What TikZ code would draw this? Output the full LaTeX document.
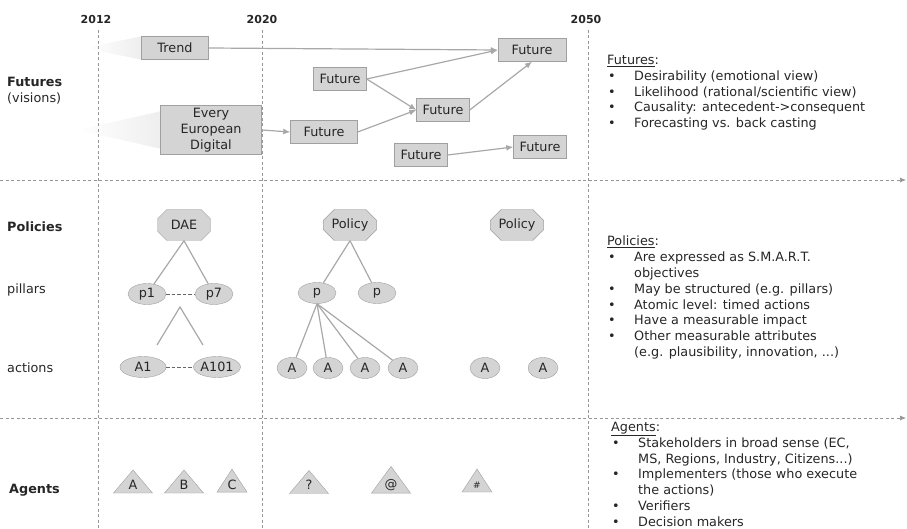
\documentclass[tikz,border=0pt]{standalone}
\usepackage{fontspec}
\setmainfont{DejaVu Sans}
\usepackage{xcolor}
\definecolor{boxgray}{RGB}{212,212,212}
\definecolor{edgegray}{RGB}{160,160,160}
\definecolor{linkgray}{RGB}{168,168,168}
\definecolor{gridgray}{RGB}{150,150,150}
\definecolor{txtgray}{RGB}{38,38,38}
\usetikzlibrary{arrows.meta,positioning,shapes.geometric,shapes.misc,backgrounds}
\newcommand{\dfont}{\fontsize{12.8}{15.8}\selectfont}
\newcommand{\bul}{\makebox[27pt][l]{\hspace{1pt}\textbullet}}
\newcommand{\ind}{\hspace*{27pt}}

\tikzset{
  futbox/.style={draw=edgegray, fill=boxgray, text=txtgray, font=\dfont, minimum width=53pt, minimum height=23pt, inner sep=1pt},
  polbox/.style={chamfered rectangle, chamfered rectangle xsep=9pt, draw=edgegray, fill=boxgray, text=txtgray, font=\dfont, minimum width=53pt, minimum height=31pt, inner sep=1pt},
  pilbox/.style={ellipse, draw=edgegray, fill=boxgray, text=txtgray, font=\dfont, minimum width=38pt, minimum height=21pt, inner sep=0pt},
  actbox/.style={pilbox, minimum width=30pt},
  agtbox/.style={isosceles triangle, isosceles triangle stretches, shape border rotate=90, draw=edgegray, fill=boxgray, text=txtgray, font=\dfont, minimum width=39pt, minimum height=23pt, inner sep=0pt},
  link/.style={draw=linkgray, line width=1.2pt},
  arr/.style={link, -{Latex[length=7pt,width=6pt]}},
  gridline/.style={draw=gridgray, line width=0.7pt, dash pattern=on 3pt off 2.5pt},
  gapdash/.style={draw=black!60, line width=1pt, dash pattern=on 3.5pt off 2pt},
  rowlbl/.style={anchor=west, inner sep=0pt, font=\dfont, text=txtgray},
  yearlbl/.style={inner sep=0pt, font=\fontsize{11}{13}\selectfont\bfseries, text=txtgray},
  notes/.style={anchor=north west, align=left, font=\dfont, text=txtgray, inner sep=0pt},
  fadewedge/.style={left color=white, right color=gray!13}
}

\begin{document}
\begin{tikzpicture}[x=1pt, y=-1pt]
  \useasboundingbox (0,0) rectangle (907,529);
  % Time axis
  \node[yearlbl] (y2012) at (96,19) {2012};
  \node[yearlbl] (y2020) at (262,19) {2020};
  \node[yearlbl] (y2050) at (586,19) {2050};
  \draw[gridline] (98,30) -- (98,529);
  \draw[gridline] (262,30) -- (262,529);
  \draw[gridline] (588,30) -- (588,529);
  \draw[gridline, -{Latex[length=6pt,width=5pt]}] (0,180) -- (906,180);
  \draw[gridline, -{Latex[length=6pt,width=5pt]}] (0,418) -- (906,418);
  % Row labels
  \node[rowlbl, font=\dfont\bfseries] (futlbl) at (7,82) {Futures};
  \node[rowlbl] (vislbl) at (7,98) {(visions)};
  \node[rowlbl, font=\dfont\bfseries] (pollbl) at (7,227) {Policies};
  \node[rowlbl] (pillbl) at (7,290) {pillars};
  \node[rowlbl] (actlbl) at (7,368) {actions};
  \node[rowlbl, font=\dfont\bfseries] (agtlbl) at (9,490) {Agents};
  % Futures
  \node[futbox, minimum width=67pt] (trend) at (175,48) {Trend};
  \node[futbox, minimum width=101pt, minimum height=49pt, align=center] (eed) at (211,130) {Every\\European\\Digital};
  \node[futbox, minimum width=68pt] (ftop) at (532,50) {Future};
  \node[futbox] (fmid) at (340,79) {Future};
  \node[futbox] (fcen) at (443,110) {Future};
  \node[futbox, minimum width=67pt] (flow) at (324,132) {Future};
  \node[futbox] (fbl) at (421,155) {Future};
  \node[futbox] (fbr) at (540,147) {Future};
  \begin{scope}[on background layer]
    \shade[fadewedge] (85,48) -- (trend.north west) -- (trend.south west) -- cycle;
    \shade[fadewedge] (78,130) -- ([yshift=-6pt]eed.north west) -- ([yshift=6pt]eed.south west) -- cycle;
  \end{scope}
  \draw[arr] (trend.east) -- (ftop.west);
  \draw[arr] (eed.east) -- (flow.west);
  \draw[arr] (fmid.east) -- (ftop.west);
  \draw[arr] (fmid.east) -- (fcen.west);
  \draw[arr] (flow.east) -- (fcen.west);
  \draw[arr] (fcen.east) -- (ftop.south);
  \draw[arr] (fbl.east) -- (fbr.west);
  % Policies
  \node[polbox] (dae) at (184,225) {DAE};
  \node[polbox] (pol1) at (350,225) {Policy};
  \node[polbox] (pol2) at (517,225) {Policy};
  \node[pilbox] (p1) at (147,294) {p1};
  \node[pilbox] (p7) at (214,294) {p7};
  \node[pilbox] (pa) at (317,293) {p};
  \node[pilbox] (pb) at (377,293) {p};
  \node[actbox, minimum width=46pt] (a1) at (143,367) {A1};
  \node[actbox, minimum width=46pt] (a101) at (217,367) {A101};
  \node[actbox] (aa) at (292,368) {A};
  \node[actbox] (ab) at (328,368) {A};
  \node[actbox] (ac) at (365,368) {A};
  \node[actbox] (ad) at (403,368) {A};
  \node[actbox] (ae) at (485,368) {A};
  \node[actbox] (af) at (543,368) {A};
  \coordinate (capl) at (157,345);
  \coordinate (apex) at (180,307);
  \coordinate (capr) at (203,345);
  \draw[link] (dae.south) -- (p1);
  \draw[link] (dae.south) -- (p7);
  \draw[gapdash] (p1) -- (p7);
  \draw[link] (capl) -- (apex) -- (capr);
  \draw[gapdash] (a1) -- (a101);
  \draw[link] (pol1.south) -- (pa);
  \draw[link] (pol1.south) -- (pb);
  \foreach \act in {aa,ab,ac,ad}
    \draw[link] (pa.south) -- (\act);
  % Agents
  \node[agtbox] (ga) at (133,485) {A};
  \node[agtbox] (gb) at (184,485) {B};
  \node[agtbox, minimum width=30pt] (gc) at (232,485) {C};
  \node[agtbox] (gq) at (309,485) {?};
  \node[agtbox] (gat) at (391,485) {@};
  \node[agtbox, minimum width=30pt, font=\fontsize{9}{10}\selectfont] (ghash) at (477,485) {\#};
  % Notes
  \node[notes] (futnote) at (607,55) {\underline{Futures}:\\
    \bul Desirability (emotional view)\\
    \bul Likelihood (rational/scientific view)\\
    \bul Causality: antecedent->consequent\\
    \bul Forecasting vs. back casting};
  \node[notes] (polnote) at (607,236) {\underline{Policies}:\\
    \bul Are expressed as S.M.A.R.T.\\
    \ind objectives\\
    \bul May be structured (e.g. pillars)\\
    \bul Atomic level: timed actions\\
    \bul Have a measurable impact\\
    \bul Other measurable attributes\\
    \ind (e.g. plausibility, innovation, ...)};
  \node[notes] (agtnote) at (611,422) {\underline{Agents}:\\
    \bul Stakeholders in broad sense (EC,\\
    \ind MS, Regions, Industry, Citizens...)\\
    \bul Implementers (those who execute\\
    \ind the actions)\\
    \bul Verifiers\\
    \bul Decision makers};
\end{tikzpicture}
\end{document}
